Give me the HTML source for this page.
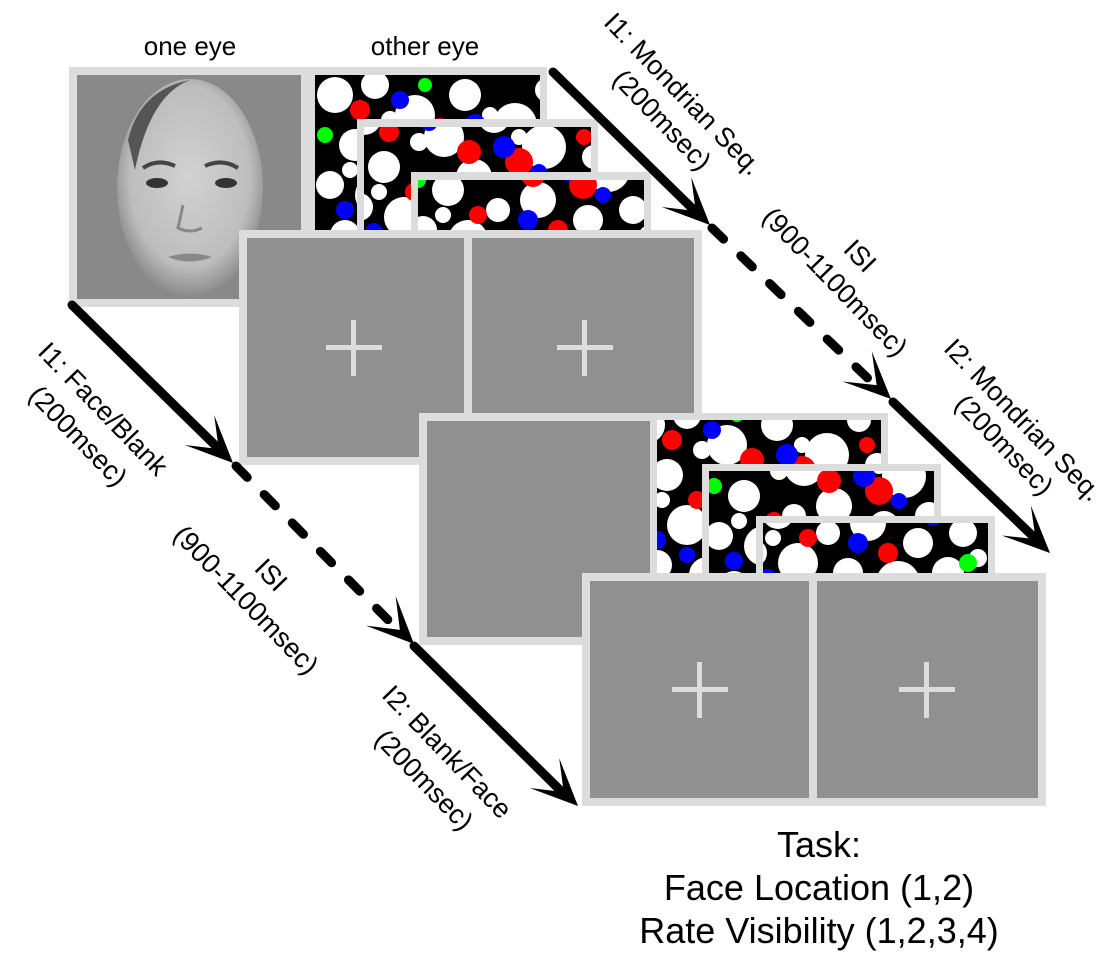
<!DOCTYPE html>
<html><head><meta charset="utf-8"><style>
html,body{margin:0;padding:0;background:#fff;width:1111px;height:955px;overflow:hidden}
svg{display:block}
text{font-family:"Liberation Sans",Arial,sans-serif;fill:#000}
</style></head><body>
<svg width="1111" height="955" viewBox="0 0 1111 955" xmlns="http://www.w3.org/2000/svg">
<defs>
<g id="mond">
<rect x="0" y="0" width="260" height="260" fill="#000"/>
<g fill="#fff">
<circle cx="20" cy="20" r="18"/><circle cx="60" cy="10" r="14"/><circle cx="100" cy="40" r="20"/><circle cx="150" cy="20" r="16"/><circle cx="200" cy="50" r="22"/><circle cx="232" cy="15" r="12"/><circle cx="40" cy="70" r="16"/><circle cx="90" cy="90" r="12"/><circle cx="130" cy="80" r="18"/><circle cx="180" cy="100" r="15"/><circle cx="225" cy="90" r="14"/><circle cx="15" cy="110" r="14"/><circle cx="60" cy="120" r="20"/><circle cx="110" cy="130" r="15"/><circle cx="160" cy="140" r="22"/><circle cx="210" cy="130" r="16"/><circle cx="30" cy="160" r="15"/><circle cx="80" cy="170" r="18"/><circle cx="140" cy="175" r="14"/><circle cx="190" cy="180" r="20"/><circle cx="235" cy="170" r="12"/><circle cx="20" cy="210" r="18"/><circle cx="70" cy="220" r="15"/><circle cx="120" cy="210" r="20"/><circle cx="170" cy="225" r="14"/><circle cx="220" cy="215" r="18"/><circle cx="250" cy="60" r="12"/>
<circle cx="75" cy="45" r="9"/><circle cx="175" cy="40" r="8"/><circle cx="35" cy="95" r="8"/><circle cx="240" cy="115" r="9"/><circle cx="125" cy="155" r="9"/><circle cx="45" cy="240" r="10"/><circle cx="200" cy="245" r="10"/>
</g>
<g fill="#f00">
<circle cx="45" cy="35" r="10"/><circle cx="125" cy="55" r="12"/><circle cx="175" cy="65" r="14"/><circle cx="70" cy="95" r="9"/><circle cx="205" cy="160" r="12"/><circle cx="35" cy="190" r="10"/><circle cx="150" cy="110" r="10"/><circle cx="100" cy="190" r="12"/><circle cx="240" cy="40" r="8"/>
</g>
<g fill="#00f">
<circle cx="85" cy="25" r="9"/><circle cx="160" cy="50" r="11"/><circle cx="120" cy="100" r="10"/><circle cx="30" cy="135" r="9"/><circle cx="195" cy="75" r="8"/><circle cx="145" cy="200" r="10"/><circle cx="60" cy="150" r="8"/>
</g>
<g fill="#0f0">
<circle cx="10" cy="60" r="8"/><circle cx="110" cy="10" r="7"/><circle cx="175" cy="145" r="9"/><circle cx="55" cy="190" r="8"/><circle cx="230" cy="120" r="9"/><circle cx="95" cy="145" r="7"/>
</g>
</g>
<radialGradient id="fg" cx="0.5" cy="0.45" r="0.55">
<stop offset="0" stop-color="#d2d2d2"/><stop offset="0.75" stop-color="#bdbdbd"/><stop offset="1" stop-color="#8a8a8a"/>
</radialGradient>
<path id="ah" d="M0,0 L-47,-21 L-20,0 L-47,21 Z" fill="#000"/>
</defs>

<text x="190" y="55" font-size="26" text-anchor="middle">one eye</text>
<text x="425" y="55" font-size="26" text-anchor="middle">other eye</text>

<!-- face panel -->
<rect x="69" y="67" width="239" height="240" fill="#dcdcdc"/>
<rect x="77" y="75" width="224" height="224" fill="#898989"/>
<ellipse cx="190" cy="188" rx="73" ry="109" fill="url(#fg)"/>
<path d="M128,140 Q140,90 190,80 Q150,95 135,170 Z" fill="#555"/>
<path d="M143,168 Q158,158 175,166" stroke="#444" stroke-width="4" fill="none"/>
<path d="M205,166 Q222,158 238,168" stroke="#444" stroke-width="4" fill="none"/>
<ellipse cx="157" cy="183" rx="11" ry="5" fill="#333"/>
<ellipse cx="226" cy="183" rx="11" ry="5" fill="#333"/>
<path d="M183,205 L178,228 Q190,234 202,228" stroke="#888" stroke-width="3" fill="none"/>
<path d="M168,257 Q190,250 212,257 Q190,266 168,257 Z" fill="#888"/>

<!-- mondrians set 1 -->
<rect x="308" y="67" width="239" height="240" fill="#dcdcdc"/>
<svg x="315" y="75" width="225" height="230"><use href="#mond"/></svg>
<rect x="357" y="119" width="241" height="240" fill="#dcdcdc"/>
<svg x="364" y="127" width="227" height="230"><use href="#mond" transform="translate(-20,-30)"/></svg>
<rect x="411" y="172" width="240" height="240" fill="#dcdcdc"/>
<svg x="418" y="180" width="226" height="230"><use href="#mond" transform="translate(-10,-60)"/></svg>

<!-- fixation pair 1 -->
<rect x="239" y="230" width="463" height="235" fill="#dcdcdc"/>
<rect x="247" y="238" width="217" height="219" fill="#909090"/>
<rect x="472" y="238" width="222" height="219" fill="#909090"/>
<rect x="326" y="345" width="56" height="5" fill="#dcdcdc"/><rect x="351" y="320" width="5" height="56" fill="#dcdcdc"/>
<rect x="557" y="345" width="56" height="5" fill="#dcdcdc"/><rect x="582" y="320" width="5" height="56" fill="#dcdcdc"/>

<!-- blank panel -->
<rect x="419" y="413" width="240" height="232" fill="#dcdcdc"/>
<rect x="427" y="421" width="224" height="216" fill="#909090"/>

<!-- mondrians set 2 -->
<rect x="650" y="413" width="238" height="240" fill="#dcdcdc"/>
<svg x="657" y="420" width="224" height="230"><use href="#mond" transform="translate(-30,-15)"/></svg>
<rect x="702" y="464" width="239" height="240" fill="#dcdcdc"/>
<svg x="709" y="471" width="225" height="230"><use href="#mond" transform="translate(-5,-45)"/></svg>
<rect x="756" y="516" width="239" height="240" fill="#dcdcdc"/>
<svg x="763" y="523" width="225" height="230"><use href="#mond" transform="translate(-25,-80)"/></svg>

<!-- fixation pair 2 -->
<rect x="582" y="573" width="464" height="233" fill="#dcdcdc"/>
<rect x="590" y="581" width="219" height="217" fill="#909090"/>
<rect x="817" y="581" width="221" height="217" fill="#909090"/>
<rect x="672" y="687" width="56" height="5" fill="#dcdcdc"/><rect x="697" y="662" width="5" height="56" fill="#dcdcdc"/>
<rect x="899" y="687" width="56" height="5" fill="#dcdcdc"/><rect x="924" y="662" width="5" height="56" fill="#dcdcdc"/>

<!-- arrows -->
<g stroke="#000" stroke-width="9" stroke-linecap="round" fill="none">
<line x1="72" y1="305" x2="222" y2="452"/>
<line x1="236" y1="466" x2="400" y2="632" stroke-dasharray="16 24"/>
<line x1="414" y1="646" x2="565" y2="795"/>
<line x1="553" y1="72" x2="700" y2="216"/>
<line x1="712" y1="228" x2="880" y2="390" stroke-dasharray="16 24"/>
<line x1="893" y1="402" x2="1040" y2="543"/>
</g>
<use href="#ah" transform="translate(233,463) rotate(44.5)"/>
<use href="#ah" transform="translate(414,644) rotate(45)"/>
<use href="#ah" transform="translate(578,806) rotate(44.5)"/>
<use href="#ah" transform="translate(710,225) rotate(44.5)"/>
<use href="#ah" transform="translate(891,399) rotate(44)"/>
<use href="#ah" transform="translate(1050,553) rotate(44)"/>

<!-- rotated labels -->
<g font-size="27" text-anchor="middle" dominant-baseline="central">
<text transform="translate(103,409) rotate(46)">I1: Face/Blank</text>
<text transform="translate(78,436) rotate(46)">(200msec)</text>
<text transform="translate(271,575) rotate(46)">ISI</text>
<text transform="translate(246,600) rotate(46)">(900-1100msec)</text>
<text transform="translate(447,752) rotate(46)">I2: Blank/Face</text>
<text transform="translate(424,780) rotate(46)">(200msec)</text>
<text transform="translate(683,94) rotate(46)">I1: Mondrian Seq.</text>
<text transform="translate(662,120) rotate(46)">(200msec)</text>
<text transform="translate(860,256) rotate(46)">ISI</text>
<text transform="translate(835,282) rotate(46)">(900-1100msec)</text>
<text transform="translate(1023,420) rotate(46)">I2: Mondrian Seq.</text>
<text transform="translate(1004,445) rotate(46)">(200msec)</text>
</g>

<g font-size="36" text-anchor="middle">
<text x="819" y="857">Task:</text>
<text x="819" y="900">Face Location (1,2)</text>
<text x="819" y="943">Rate Visibility (1,2,3,4)</text>
</g>
</svg>
</body></html>
